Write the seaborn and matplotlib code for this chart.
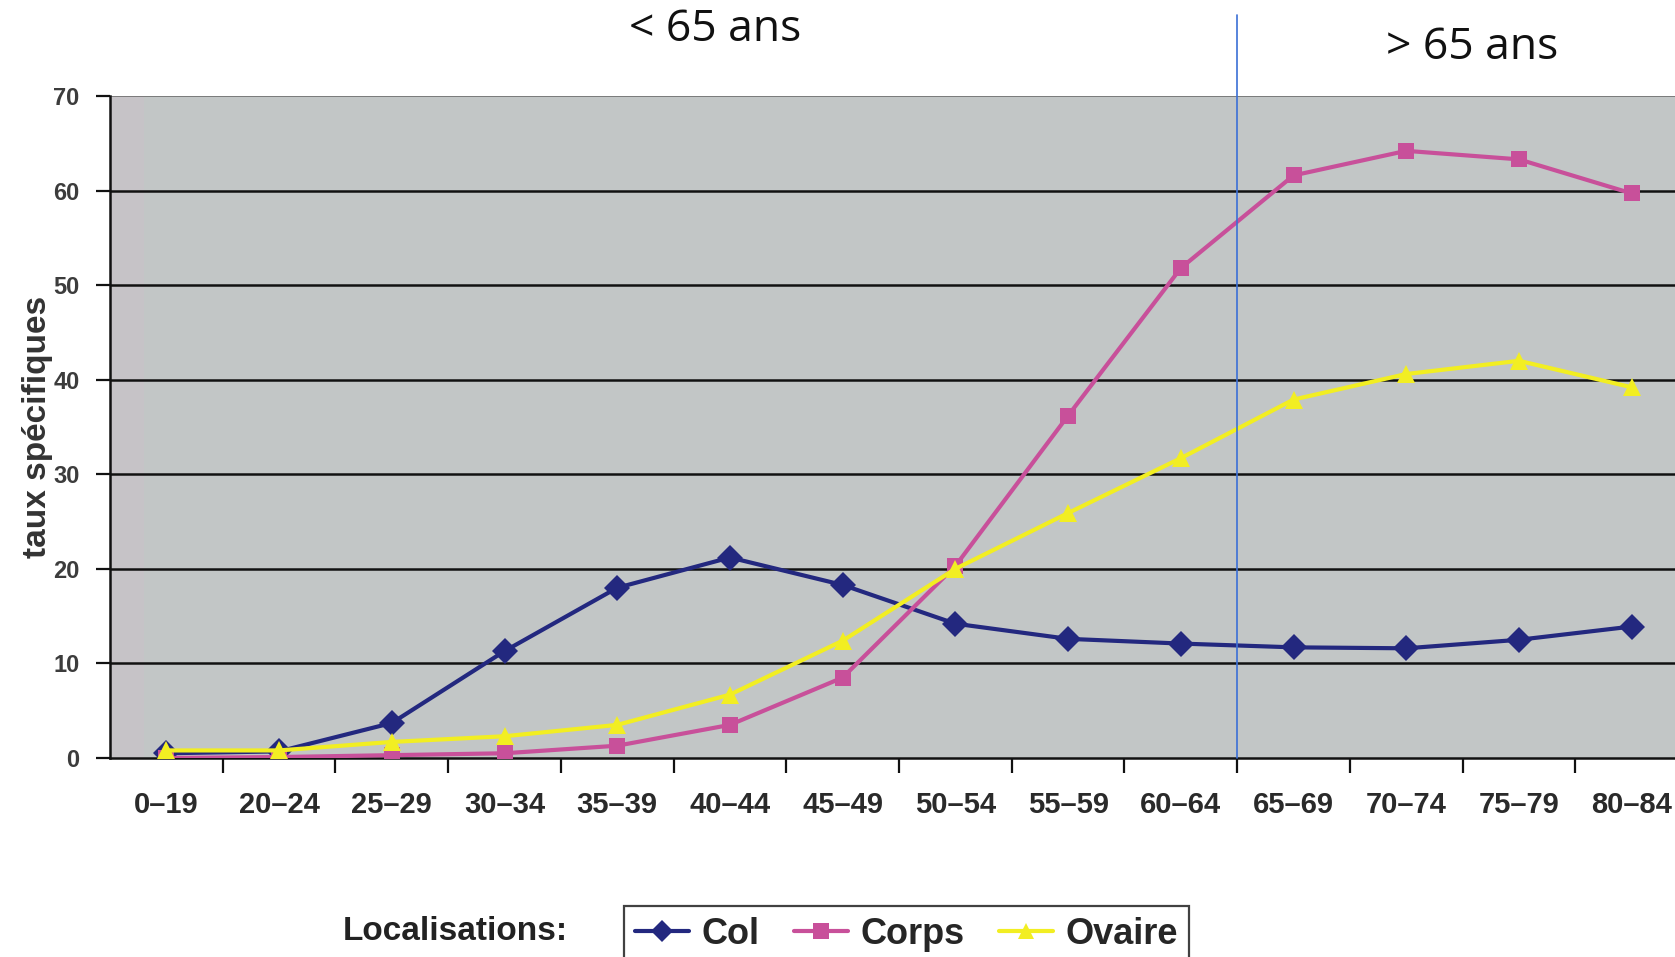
import matplotlib
matplotlib.use("Agg")
import matplotlib.pyplot as plt
from matplotlib.lines import Line2D
import seaborn as sns
import pandas as pd

# Age groups and specific rates per cancer site
age_groups = ["0–19", "20–24", "25–29", "30–34", "35–39", "40–44", "45–49",
              "50–54", "55–59", "60–64", "65–69", "70–74", "75–79", "80–84"]
col = [0.5, 0.7, 3.7, 11.3, 18.0, 21.2, 18.3, 14.2, 12.6, 12.1, 11.7, 11.6, 12.5, 13.9]
corps = [0.0, 0.1, 0.3, 0.5, 1.3, 3.5, 8.5, 20.3, 36.2, 51.8, 61.6, 64.2, 63.3, 59.7]
ovaire = [0.8, 0.8, 1.7, 2.3, 3.5, 6.7, 12.4, 20.0, 25.9, 31.7, 37.9, 40.6, 42.0, 39.2]
series_names = ["Col", "Corps", "Ovaire"]
y_ticks = [0, 10, 20, 30, 40, 50, 60, 70]

rows = []
for name, vals in zip(series_names, [col, corps, ovaire]):
    for i, v in enumerate(vals):
        rows.append({"pos": i, "taux": v, "loc": name})
df = pd.DataFrame(rows)

sns.set_theme(style="white")
plt.rcParams["font.family"] = ["Liberation Sans", "DejaVu Sans"]

colors = {"Col": "#23287f", "Corps": "#c8509a", "Ovaire": "#f2ee22"}
markers = {"Col": "D", "Corps": "s", "Ovaire": "^"}
msizes = {"Col": 13, "Corps": 12, "Ovaire": 13}

fig = plt.figure(figsize=(16.75, 9.57), dpi=100)
ax = fig.add_axes([110 / 1675, 1 - 758 / 957, 1578 / 1675, 662 / 957])
ax.set_facecolor("#c2c6c6")
# slightly tinted strip along the left edge of the plot area
ax.axvspan(-0.5, -0.2, color="#c6c3c7", zorder=0, linewidth=0)

for name in series_names:
    sub = df[df["loc"] == name]
    sns.lineplot(data=sub, x="pos", y="taux", ax=ax, color=colors[name],
                 marker=markers[name], markersize=msizes[name],
                 markeredgewidth=0, linewidth=3.0, zorder=4, legend=False)

# Horizontal grid lines
for t in y_ticks[1:-1]:
    ax.axhline(t, color="#111111", linewidth=1.8, zorder=2)
ax.axhline(70, color="#7a7a7a", linewidth=1.4, zorder=2)

ax.set_xlim(-0.5, len(age_groups) - 0.5)
ax.set_ylim(0, 70)
ax.set_yticks(y_ticks)
ax.set_yticklabels([str(t) for t in y_ticks], fontsize=17, fontweight="bold",
                   color="#3c3c3c")
ax.set_xticks(range(len(age_groups)))
ax.set_xticklabels(age_groups, fontsize=21, fontweight="bold", color="#2a2a2a")
ax.set_xticks([i + 0.5 for i in range(len(age_groups) - 1)], minor=True)
ax.tick_params(axis="x", which="major", length=0, pad=24)
ax.tick_params(axis="x", which="minor", length=11, width=1.6, color="#111111",
               direction="out", bottom=True)
ax.tick_params(axis="y", length=10, width=1.6, color="#111111", direction="out",
               left=True, pad=12)
ax.set_xlabel("")
ax.set_ylabel("taux spécifiques", fontsize=24, fontweight="bold", color="#333333",
              labelpad=0)

for side in ["top", "right"]:
    ax.spines[side].set_visible(False)
for side in ["left", "bottom"]:
    ax.spines[side].set_color("#111111")
    ax.spines[side].set_linewidth(1.8)

# Age threshold separator at 65 years
ax.axvline(9.5, ymin=0, ymax=(758 - 15) / 662, color="#3b6fd6", linewidth=1.2,
           clip_on=False, zorder=5)

fig.text(715 / 1675, 1 - 30 / 957, "< 65 ans", fontsize=32, ha="center",
         va="center", family=["Open Sans", "DejaVu Sans"], color="#111111")
fig.text(1472 / 1675, 1 - 48 / 957, "> 65 ans", fontsize=32, ha="center",
         va="center", family=["Open Sans", "DejaVu Sans"], color="#111111")

# Legend along the bottom
fig.text(455 / 1675, 1 - 931 / 957, "Localisations:", fontsize=24,
         fontweight="bold", ha="center", va="center", color="#222222")
handles = [Line2D([0], [0], color=colors[n], marker=markers[n], markersize=11,
                  markeredgewidth=0, linewidth=3.0) for n in series_names]
leg = fig.legend(handles, series_names, loc="upper left",
                 bbox_to_anchor=(624 / 1675, 1 - 906 / 957), borderaxespad=0,
                 ncol=3, frameon=True, fancybox=False, handlelength=1.5,
                 handletextpad=0.35, columnspacing=0.95, borderpad=0.3,
                 prop={"weight": "bold", "size": 26})
leg.get_frame().set_edgecolor("#111111")
leg.get_frame().set_linewidth(1.6)

fig.savefig("out.png", dpi=100)
